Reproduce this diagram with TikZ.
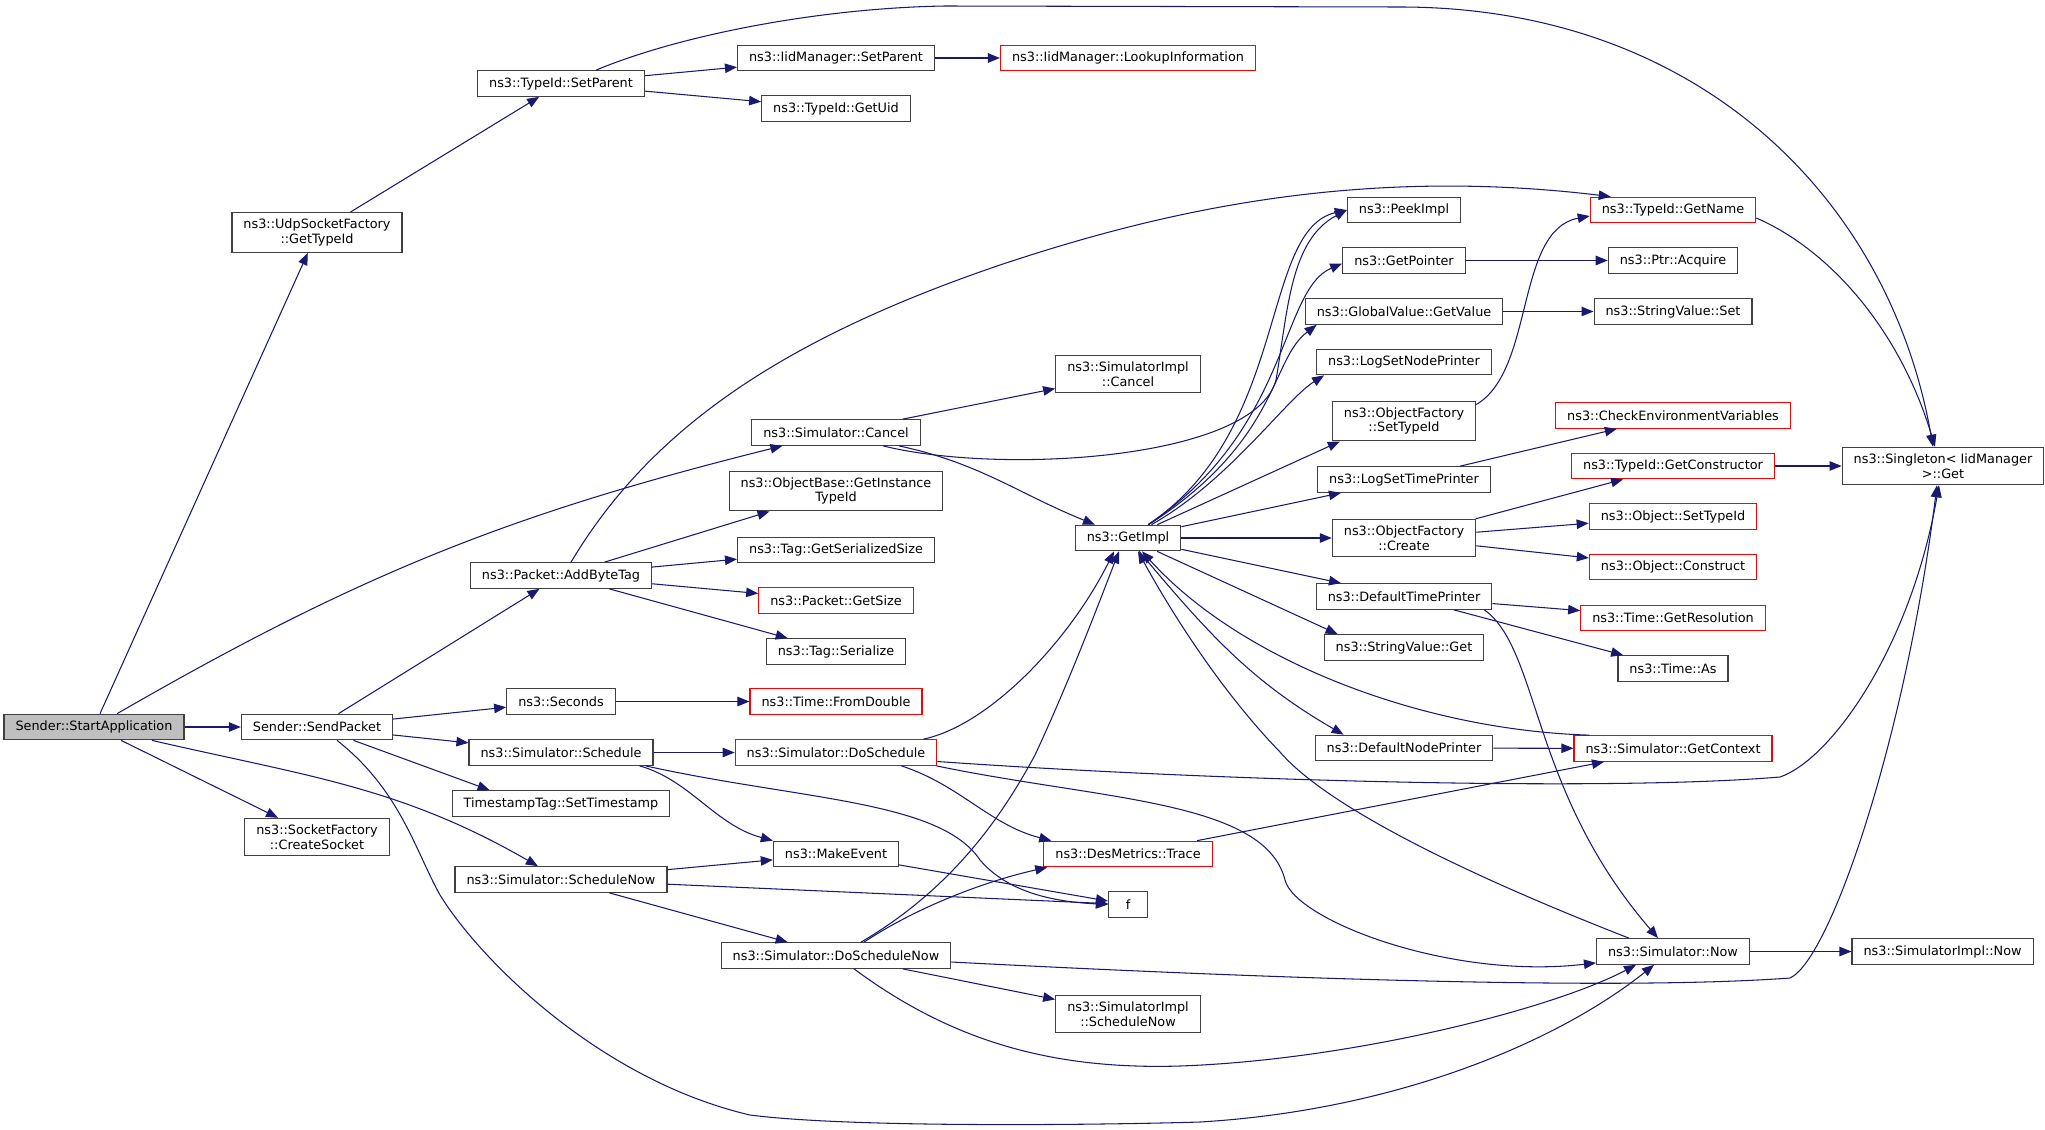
\documentclass[tikz,border=0pt]{standalone}
\usepackage{fontspec}
\usepackage{tikz}
\usetikzlibrary{arrows.meta,calc}
\newfontfamily\doxfont{DejaVu Sans}
\definecolor{edgeblue}{HTML}{191970}
\definecolor{boxgray}{HTML}{404040}
\definecolor{startgray}{HTML}{BFBFBF}
\definecolor{boxred}{HTML}{FF0000}

\begin{document}
\begin{tikzpicture}[x=0.02cm, y=0.02cm,
    fn/.style={draw=boxgray, line width=0.7pt, fill=white, font=\doxfont\fontsize{7.3}{8.4}\selectfont, align=center, inner xsep=0.23cm, inner ysep=0.125cm, minimum height=0.51cm},
    fnred/.style={fn, draw=boxred},
    fnstart/.style={fn, fill=startgray},
    call/.style={draw=edgeblue, line width=0.6pt, -{Triangle[length=0.24cm,width=0.19cm]}}]
      \useasboundingbox (0,0) rectangle (2045,-1129);

      \node [fnstart] (start) at (94,-727) {Sender::StartApplication};
      \node [fn] (udp) at (317,-232.5) {ns3::UdpSocketFactory\\::GetTypeId};
      \node [fn] (sendpacket) at (317,-727) {Sender::SendPacket};
      \node [fn] (createsocket) at (317,-837) {ns3::SocketFactory\\::CreateSocket};

      \node [fn] (setparent) at (561,-83.5) {ns3::TypeId::SetParent};
      \node [fn] (addbytetag) at (561,-575.5) {ns3::Packet::AddByteTag};
      \node [fn] (seconds) at (561,-701.5) {ns3::Seconds};
      \node [fn] (schedule) at (561,-752.5) {ns3::Simulator::Schedule};
      \node [fn] (settimestamp) at (561,-803.5) {TimestampTag::SetTimestamp};
      \node [fn] (schedulenow) at (561,-879.5) {ns3::Simulator::ScheduleNow};

      \node [fn] (iidsetparent) at (836,-58) {ns3::IidManager::SetParent};
      \node [fn] (getuid) at (836,-108.5) {ns3::TypeId::GetUid};
      \node [fn] (cancel) at (836,-432.5) {ns3::Simulator::Cancel};
      \node [fn] (instancetypeid) at (836,-491) {ns3::ObjectBase::GetInstance\\TypeId};
      \node [fn] (serializedsize) at (836,-550) {ns3::Tag::GetSerializedSize};
      \node [fnred] (getsize) at (836,-600.5) {ns3::Packet::GetSize};
      \node [fn] (serialize) at (836,-651.5) {ns3::Tag::Serialize};
      \node [fnred] (fromdouble) at (836,-701.5) {ns3::Time::FromDouble};
      \node [fnred] (doschedule) at (836,-752.5) {ns3::Simulator::DoSchedule};
      \node [fn] (makeevent) at (836,-854) {ns3::MakeEvent};
      \node [fn] (doschedulenow) at (836,-955.5) {ns3::Simulator::DoScheduleNow};

      \node [fnred] (lookup) at (1128,-58) {ns3::IidManager::LookupInformation};
      \node [fn] (implcancel) at (1128,-374) {ns3::SimulatorImpl\\::Cancel};
      \node [fn] (getimpl) at (1128,-538) {ns3::GetImpl};
      \node [fnred] (trace) at (1128,-854) {ns3::DesMetrics::Trace};
      \node [fn, minimum width=0.78cm] (f) at (1128,-904.5) {f};
      \node [fn] (implschedulenow) at (1128,-1014) {ns3::SimulatorImpl\\::ScheduleNow};

      \node [fn] (peekimpl) at (1404,-210) {ns3::PeekImpl};
      \node [fn] (getpointer) at (1404,-260.5) {ns3::GetPointer};
      \node [fn] (getvalue) at (1404,-311.5) {ns3::GlobalValue::GetValue};
      \node [fn] (lognodeprinter) at (1404,-362) {ns3::LogSetNodePrinter};
      \node [fn] (ofsettypeid) at (1404,-421) {ns3::ObjectFactory\\::SetTypeId};
      \node [fn] (logtimeprinter) at (1404,-479.5) {ns3::LogSetTimePrinter};
      \node [fn] (ofcreate) at (1404,-538) {ns3::ObjectFactory\\::Create};
      \node [fn] (timeprinter) at (1404,-596.5) {ns3::DefaultTimePrinter};
      \node [fn] (stringget) at (1404,-647.5) {ns3::StringValue::Get};
      \node [fn] (nodeprinter) at (1404,-748) {ns3::DefaultNodePrinter};

      \node [fnred] (getname) at (1673,-210) {ns3::TypeId::GetName};
      \node [fn] (acquire) at (1673,-260.5) {ns3::Ptr::Acquire};
      \node [fn] (stringset) at (1673,-311.5) {ns3::StringValue::Set};
      \node [fnred] (checkenv) at (1673,-415.5) {ns3::CheckEnvironmentVariables};
      \node [fnred] (getconstructor) at (1673,-466) {ns3::TypeId::GetConstructor};
      \node [fnred] (objsettypeid) at (1673,-516.5) {ns3::Object::SetTypeId};
      \node [fnred] (objconstruct) at (1673,-567) {ns3::Object::Construct};
      \node [fnred] (getresolution) at (1673,-618) {ns3::Time::GetResolution};
      \node [fn] (timeas) at (1673,-668.5) {ns3::Time::As};
      \node [fnred] (getcontext) at (1673,-748.5) {ns3::Simulator::GetContext};
      \node [fn] (simnow) at (1673,-951.5) {ns3::Simulator::Now};

      \node [fn] (singleton) at (1943,-466) {ns3::Singleton< IidManager\\>::Get};
      \node [fn] (implnow) at (1942.6,-951.5) {ns3::SimulatorImpl::Now};

      \draw [call] (start) -- (udp);
      \draw [call] (start) to [out=30,in=194] (cancel);
      \draw [call] (start) -- (sendpacket);
      \draw [call] (start) -- (createsocket);
      \draw [call] (start) to [out=-13,in=150] (schedulenow);

      \draw [call] (udp) -- (setparent);
      \draw [call] (setparent) -- (iidsetparent);
      \draw [call] (setparent) -- (getuid);
      \draw [call] ($(setparent.north)+(35,0)$) .. controls (680,-35) and (820,-8) .. (945,-6) -- (1400,-7) .. controls (1700,-7) and (1890,-200) .. ($(singleton.north)+(-10,0)$);
      \draw [call] (iidsetparent) -- (lookup);

      \draw [call] (sendpacket) -- (addbytetag);
      \draw [call] (sendpacket) -- (seconds);
      \draw [call] (sendpacket) -- (schedule);
      \draw [call] (sendpacket) -- ($(settimestamp.north west)+(38,0)$);
      \draw [call] ($(sendpacket.south)+(20,0)$) .. controls (400,-790) and (415,-850) .. (440,-895) .. controls (480,-960) and (600,-1080) .. (750,-1115) .. controls (850,-1128) and (1100,-1125) .. (1200,-1122) .. controls (1400,-1110) and (1560,-1040) .. ($(simnow.south)+(-19,0)$);

      \draw [call] (addbytetag) -- (instancetypeid);
      \draw [call] (addbytetag) -- (serializedsize);
      \draw [call] (addbytetag) -- (getsize);
      \draw [call] (addbytetag) -- (serialize);
      \draw [call] ($(addbytetag.north)+(10,0)$) .. controls (650,-430) and (780,-340) .. (1000,-265) .. controls (1150,-215) and (1350,-165) .. ($(getname.north west)+(21,0)$);

      \draw [call] (cancel) -- (implcancel);
      \draw [call] (cancel) to [out=-12,in=158] (getimpl);
      \draw [call] ($(cancel.south)+(47,0)$) .. controls (1000,-475) and (1255,-460) .. (1276,-380) .. controls (1288,-310) and (1290,-240) .. (peekimpl.west);

      \draw [call] (seconds) -- (fromdouble);
      \draw [call] (schedule) -- (doschedule);
      \draw [call] ($(schedule.south east)+(-14,0)$) .. controls (690,-780) and (715,-825) .. (makeevent.north west);
      \draw [call] ($(schedule.south east)+(-8,0)$) .. controls (800,-800) and (940,-800) .. (980,-860) .. controls (1010,-895) and (1060,-902) .. (f.west);

      \draw [call] (schedulenow) -- (makeevent);
      \draw [call] (schedulenow) -- (f);
      \draw [call] (schedulenow) -- (doschedulenow);
      \draw [call] (makeevent) -- (f);

      \draw [call] ($(doschedule.north east)+(-14,0)$) .. controls (990,-725) and (1070,-640) .. ($(getimpl.south)+(-14,0)$);
      \draw [call] ($(doschedule.south east)+(-36,0)$) .. controls (960,-785) and (990,-825) .. ($(trace.north west)+(8,0)$);
      \draw [call] ($(doschedule.south east)+(-1,0)$) .. controls (1100,-800) and (1265,-800) .. (1285,-880) .. controls (1295,-920) and (1450,-980) .. ($(simnow.south west)+(0,2)$);
      \draw [call] ($(doschedule.east)+(0,-9)$) .. controls (1200,-780) and (1600,-792) .. (1780,-777) .. controls (1830,-760) and (1910,-650) .. ($(singleton.south)+(-4,0)$);

      \draw [call] ($(doschedulenow.north)+(25,0)$) .. controls (950,-890) and (1000,-820) .. (1035,-755) .. controls (1070,-680) and (1100,-600) .. ($(getimpl.south)+(-9,0)$);
      \draw [call] ($(doschedulenow.north)+(28,0)$) .. controls (920,-905) and (990,-880) .. ($(trace.south west)+(4,0)$);
      \draw [call] (doschedulenow) -- (implschedulenow);
      \draw [call] ($(doschedulenow.south)+(18,0)$) .. controls (950,-1040) and (1050,-1070) .. (1180,-1066) .. controls (1350,-1060) and (1550,-1010) .. ($(simnow.south)+(-37,0)$);
      \draw [call] ($(doschedulenow.east)+(0,-6.5)$) .. controls (1200,-975) and (1600,-992) .. (1790,-978) .. controls (1830,-960) and (1905,-740) .. ($(singleton.south)+(-6,0)$);

      \draw [call] (trace) -- (getcontext);

      \draw [call] (getimpl) .. controls (1290,-430) and (1260,-230) .. (peekimpl.west);
      \draw [call] (getimpl) .. controls (1290,-430) and (1280,-290) .. ($(getpointer.west)+(0,-3)$);
      \draw [call] (getimpl) .. controls (1280,-440) and (1270,-360) .. ($(getvalue.south west)+(12,0)$);
      \draw [call] (getimpl) .. controls (1230,-480) and (1285,-400) .. ($(lognodeprinter.south west)+(8,0)$);
      \draw [call] (getimpl) -- ($(ofsettypeid.south west)+(8,0)$);
      \draw [call] (getimpl) -- (logtimeprinter);
      \draw [call] (getimpl) -- (ofcreate);
      \draw [call] (getimpl) -- (timeprinter);
      \draw [call] (getimpl) -- ($(stringget.north west)+(14,0)$);
      \draw [call] (getimpl) to [out=-50,in=150] ($(nodeprinter.north west)+(29,0)$);

      \draw [call] (getpointer) -- (acquire);
      \draw [call] (getvalue) -- (stringset);
      \draw [call] ($(ofsettypeid.north east)+(0,-4)$) .. controls (1535,-370) and (1515,-230) .. ($(getname.west)+(0,-6)$);
      \draw [call] (logtimeprinter) -- (checkenv);
      \draw [call] (ofcreate) -- (getconstructor);
      \draw [call] (ofcreate) -- (objsettypeid);
      \draw [call] (ofcreate) -- (objconstruct);
      \draw [call] (timeprinter) -- (getresolution);
      \draw [call] (timeprinter) to [out=-15,in=165] (timeas);
      \draw [call] ($(timeprinter.south east)+(-8,0)$) .. controls (1540,-650) and (1530,-790) .. ($(simnow.north)+(-15,0)$);
      \draw [call] (nodeprinter) -- (getcontext);

      \draw [call] ($(getname.east)+(0,-8)$) .. controls (1830,-250) and (1900,-330) .. ($(singleton.north)+(-8,0)$);
      \draw [call] (getconstructor) -- (singleton);
      \draw [call] (simnow) -- (implnow);
      \draw [call] ($(simnow.north)+(-44,0)$) .. controls (1480,-880) and (1330,-810) .. (1280,-752) .. controls (1220,-690) and (1170,-610) .. ($(getimpl.south)+(10,0)$);
      \draw [call] ($(getcontext.north west)+(16,0)$) .. controls (1420,-730) and (1240,-660) .. ($(getimpl.south)+(14,0)$);
\end{tikzpicture}
\end{document}
